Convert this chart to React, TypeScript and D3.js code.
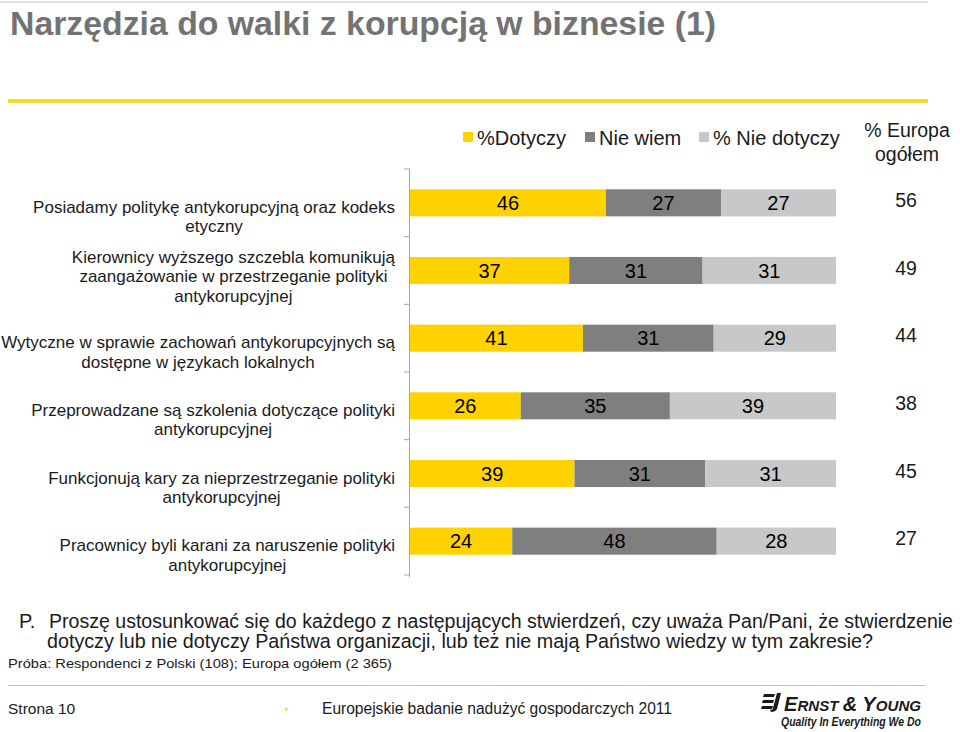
import React from "react";
import * as d3 from "d3";

const categories: string[][] = [
  ["Posiadamy politykę antykorupcyjną oraz kodeks", "etyczny"],
  ["Kierownicy wyższego szczebla komunikują", "zaangażowanie w przestrzeganie polityki", "antykorupcyjnej"],
  ["Wytyczne w sprawie zachowań antykorupcyjnych są", "dostępne w językach lokalnych"],
  ["Przeprowadzane są szkolenia dotyczące polityki", "antykorupcyjnej"],
  ["Funkcjonują kary za nieprzestrzeganie polityki", "antykorupcyjnej"],
  ["Pracownicy byli karani za naruszenie polityki", "antykorupcyjnej"],
];
const dotyczy = [46, 37, 41, 26, 39, 24];
const nieWiem = [27, 31, 31, 35, 31, 48];
const nieDotyczy = [27, 31, 29, 39, 31, 28];
const europa = [56, 49, 44, 38, 45, 27];

const seriesKeys = ["dotyczy", "nieWiem", "nieDotyczy"];
const seriesNames = ["%Dotyczy", "Nie wiem", "% Nie dotyczy"];
const seriesColors = ["#FFD200", "#7F7F7F", "#C8C8C8"];

const question1 = "Proszę ustosunkować się do każdego z następujących stwierdzeń, czy uważa Pan/Pani, że stwierdzenie";
const question2 = "dotyczy lub nie dotyczy Państwa organizacji, lub też nie mają Państwo wiedzy w tym zakresie?";

const FONT = "'Liberation Sans', Arial, sans-serif";

type Row = { [k: string]: number };

const rows: Row[] = categories.map((_, i) => ({
  idx: i,
  dotyczy: dotyczy[i],
  nieWiem: nieWiem[i],
  nieDotyczy: nieDotyczy[i],
}));

function measure(text: string, font: string): number {
  const c = document.createElement("canvas").getContext("2d");
  if (!c) return text.length * 8.5;
  c.font = font;
  return c.measureText(text).width;
}

// font size whose natural width fits the target, so textLength only stretches a little
function fitSize(text: string, target: number, max: number): number {
  const w = measure(text, `${max}px ${FONT}`);
  return w > target ? Math.floor((max * target) / w * 10) / 10 : max;
}

export default function App() {
  const x = d3.scaleLinear().domain([0, 1]).range([410, 836]);
  const y = d3
    .scaleBand<number>()
    .domain(categories.map((_, i) => i))
    .range([169, 575])
    .paddingInner(0.6)
    .paddingOuter(0.3);

  const stack = d3.stack<Row>().keys(seriesKeys).offset(d3.stackOffsetExpand);
  const stacked = stack(rows);

  const step = y.step();
  const bw = y.bandwidth();
  const boundaries = d3.range(categories.length + 1).map((i) => 169 + i * step);

  const labelSize = 17;
  const labelFont = `${labelSize}px ${FONT}`;
  const q1Size = fitSize(question1, 904, 20);
  const q2Size = fitSize(question2, 826, 20);

  return (
    <svg
      width={960}
      height={732}
      style={{ position: "absolute", left: 0, top: 0, background: "#fff" }}
      fontFamily={FONT}
    >
      {/* header */}
      <line x1={0} x2={928} y1={2} y2={2} stroke="#d9d9d9" strokeWidth={1.5} />
      <text x={10} y={35} fontWeight="bold" fontSize={33} fill="#737373"
        textLength={706} lengthAdjust="spacingAndGlyphs">
        Narzędzia do walki z korupcją w biznesie (1)
      </text>
      <line x1={8} x2={928} y1={101} y2={101} stroke="#F5D90A" strokeWidth={3.5} />

      {/* legend */}
      {seriesNames.map((n, i) => {
        const lx = [463, 585, 699][i];
        return (
          <g key={n}>
            <rect x={lx} y={132} width={10} height={10} fill={seriesColors[i]} />
            <text x={lx + 14} y={145} fontSize={20} fill="#1a1a1a">{n}</text>
          </g>
        );
      })}
      <text x={907} y={137} fontSize={19.5} textAnchor="middle" fill="#1a1a1a">% Europa</text>
      <text x={907} y={161} fontSize={19.5} textAnchor="middle" fill="#1a1a1a">ogółem</text>

      {/* category labels */}
      {categories.map((lines, i) => {
        const w = d3.max(lines, (l) => measure(l, labelFont)) || 0;
        const cx = 395 - w / 2;
        const cy = (y(i) || 0) + bw / 2;
        const first = cy + 10 - (lines.length - 2) * 18;
        return (
          <text key={i} fontSize={labelSize} fill="#1a1a1a" textAnchor="middle">
            {lines.map((l, j) => (
              <tspan key={j} x={cx} y={first + j * 19.5}>{l}</tspan>
            ))}
          </text>
        );
      })}

      {/* bars */}
      {stacked.map((s, si) => (
        <g key={s.key}>
          {s.map((d, i) => {
            const x0 = x(d[0]);
            const x1 = x(d[1]);
            const yy = y(i) || 0;
            const val = rows[i][s.key];
            return (
              <g key={i}>
                <rect x={x0} y={yy} width={x1 - x0} height={bw} fill={seriesColors[si]} />
                <text x={(x0 + x1) / 2} y={yy + bw / 2 + 7} fontSize={20} textAnchor="middle" fill="#000">
                  {val}
                </text>
              </g>
            );
          })}
        </g>
      ))}

      {/* axis */}
      <line x1={409.5} x2={409.5} y1={boundaries[0]} y2={boundaries[boundaries.length - 1] + 2} stroke="#a6a6a6" />
      {boundaries.map((b, i) => (
        <line key={i} x1={404} x2={409.5} y1={b} y2={b} stroke="#a6a6a6" />
      ))}

      {/* europe column */}
      {europa.map((v, i) => (
        <text key={i} x={906} y={(y(i) || 0) + bw / 2 + 4} fontSize={19.5} textAnchor="middle" fill="#1a1a1a">
          {v}
        </text>
      ))}

      {/* question */}
      <text x={19} y={628} fontSize={20} fill="#1a1a1a">P.</text>
      <text x={49} y={628} fontSize={q1Size} fill="#1a1a1a" textLength={904} lengthAdjust="spacingAndGlyphs">
        {question1}
      </text>
      <text x={47} y={648} fontSize={q2Size} fill="#1a1a1a" textLength={826} lengthAdjust="spacingAndGlyphs">
        {question2}
      </text>
      <text x={8} y={668} fontSize={13.5} fill="#1a1a1a" textLength={384} lengthAdjust="spacingAndGlyphs">
        Próba: Respondenci z Polski (108); Europa ogółem (2 365)
      </text>
      <line x1={8} x2={925} y1={685.5} y2={685.5} stroke="#bfbfbf" strokeWidth={1} />

      {/* footer */}
      <text x={8} y={714} fontSize={15.5} fill="#1a1a1a">Strona 10</text>
      <rect x={285} y={708} width={2.5} height={2.5} fill="#F5D90A" />
      <text x={322} y={714} fontSize={16} fill="#1a1a1a" textLength={350} lengthAdjust="spacingAndGlyphs">
        Europejskie badanie nadużyć gospodarczych 2011
      </text>

      {/* logo */}
      <g fill="#1a1a1a">
        <path d="M764,694 L775,694 L774,697 L763,697 Z" />
        <path d="M763,700 L774,700 L773,703 L762,703 Z" />
        <path d="M762,706 L773,706 L772,709 L761,709 Z" />
        <path d="M777,693 L781,693 L777,709 C776,711 774,712 771,712 L770,710 C772,710 773,709 773,708 Z" />
      </g>
      <text x={784} y={711} fontStyle="italic" fontWeight="bold" fill="#1a1a1a"
        textLength={137} lengthAdjust="spacingAndGlyphs">
        <tspan fontSize={20}>E</tspan><tspan fontSize={15}>RNST </tspan><tspan fontSize={20}>&amp; Y</tspan><tspan fontSize={15}>OUNG</tspan>
      </text>
      <text x={781} y={726} fontStyle="italic" fontWeight="bold" fontSize={12} fill="#1a1a1a"
        textLength={140} lengthAdjust="spacingAndGlyphs">
        Quality In Everything We Do
      </text>
    </svg>
  );
}
